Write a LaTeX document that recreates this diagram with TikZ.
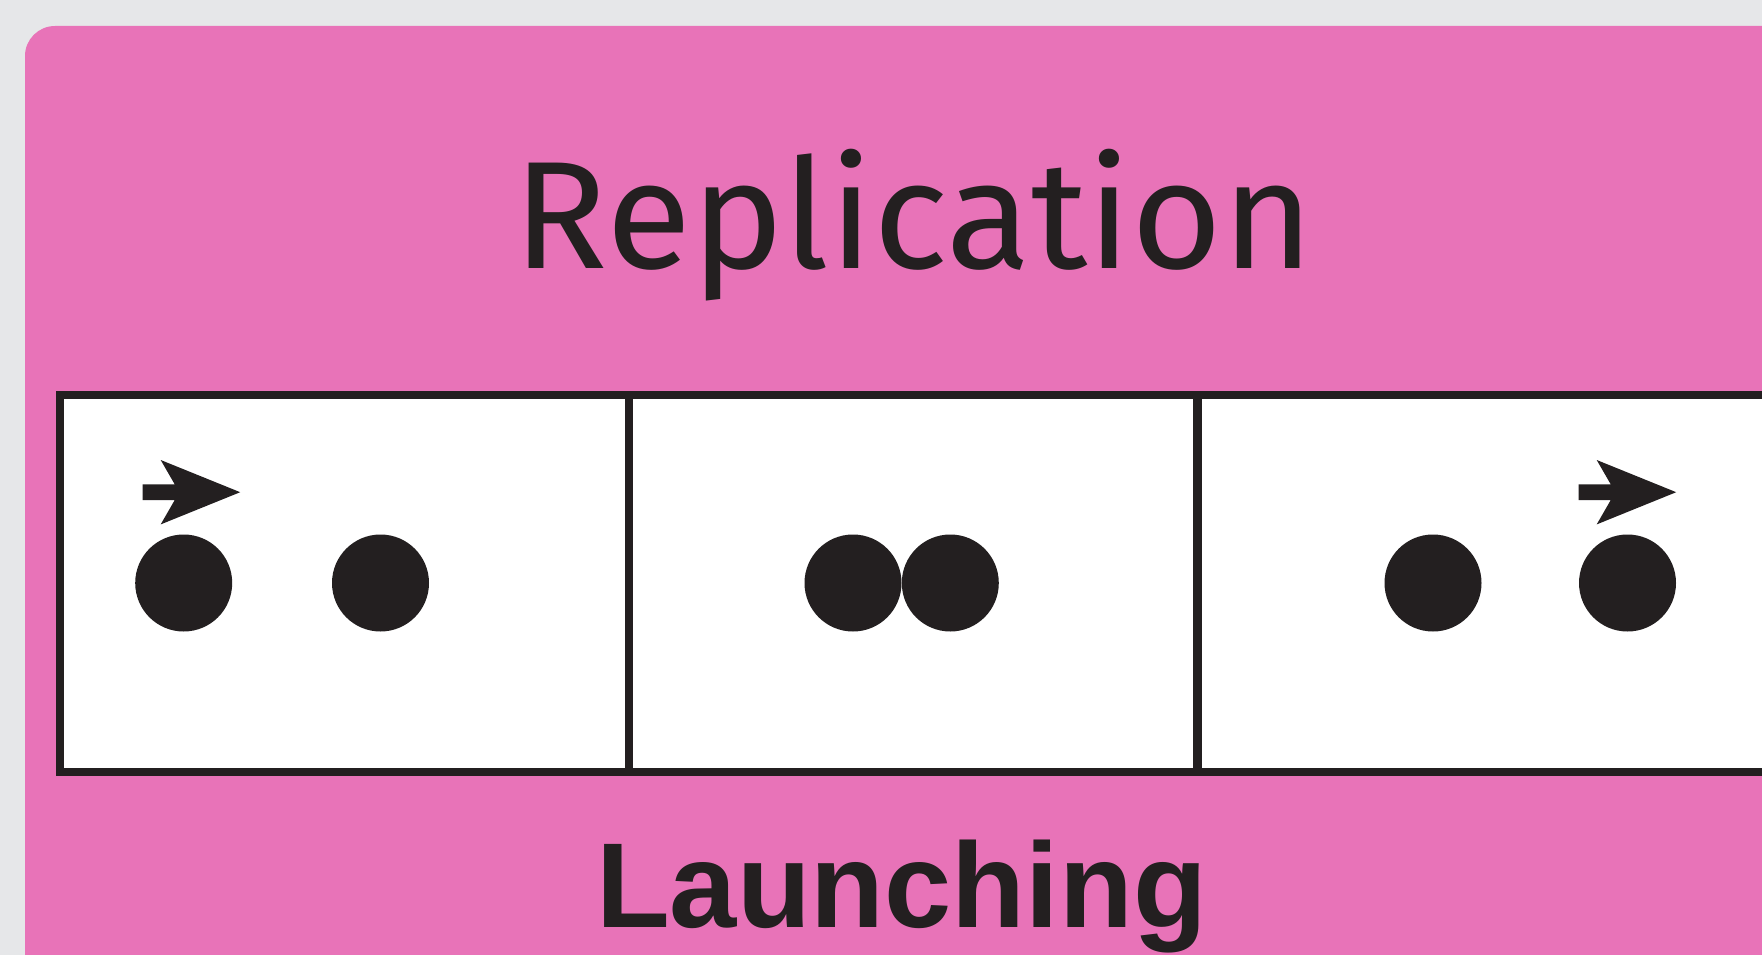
\documentclass[tikz,border=0pt]{standalone}
\usepackage{fontspec}
\setmainfont{Fira Sans}
\newfontfamily\labelfont{Liberation Sans}
\definecolor{bggray}{HTML}{E6E7E9}
\definecolor{cardpink}{HTML}{E873B8}
\definecolor{ink}{HTML}{231F20}
\tikzset{
  panel/.style={draw=ink, fill=white, line width=8pt, rectangle, inner sep=0pt,
    minimum width=568.5pt, minimum height=376.7pt},
  dot/.style={circle, fill=ink, inner sep=0pt, minimum size=97pt},
  fwdarrow/.pic={\fill[ink] (0,-7.9) -- (32,-7.9) -- (18,-32.2) -- (97.5,0) -- (18,32.2) -- (32,7.9) -- (0,7.9) -- cycle;},
  titletext/.style={text=ink, anchor=base, inner sep=0pt}
}
\begin{document}
\begin{tikzpicture}[x=1pt,y=-1pt]
\useasboundingbox (0,0) rectangle (1762,955);
\clip (0,0) rectangle (1762,955);
\fill[bggray] (0,0) rectangle (1762,955);
\fill[cardpink, rounded corners=30pt] (25,26) rectangle (1830,1020);
\node[titletext, font=\fontsize{153}{160}\selectfont, xscale=1.02] (title) at (914,268.6) {Replication};
\node[panel] (p1) at (344.6,583.35) {};
\node[panel] (p2) at (913,583.35) {};
\node[panel] (p3) at (1481.75,583.35) {};
\node[dot] (d1) at (183.7,583) {};
\node[dot] (d2) at (380.5,583) {};
\node[dot] (d3) at (853,583) {};
\node[dot] (d4) at (950.3,583) {};
\node[dot] (d5) at (1433,583) {};
\node[dot] (d6) at (1627.5,583) {};
\pic at (142.7,492.2) {fwdarrow};
\pic at (1578.7,492.2) {fwdarrow};
\node[titletext, font=\labelfont\bfseries\fontsize{120.8}{126}\selectfont] (label) at (901.5,927) {Launching};
\end{tikzpicture}
\end{document}
